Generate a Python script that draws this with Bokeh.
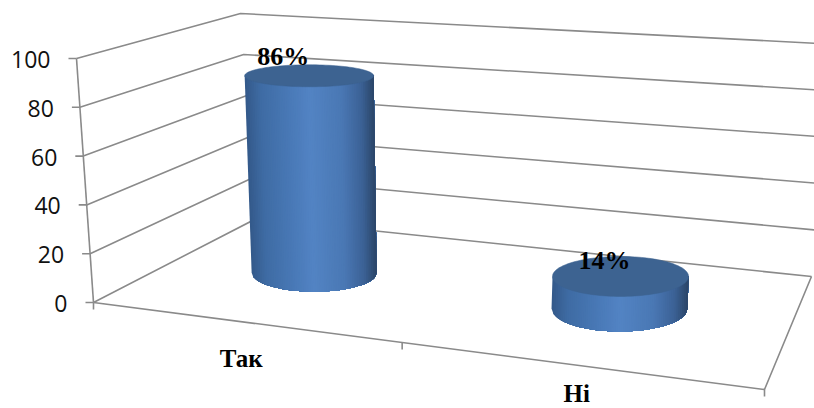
import numpy as np
from bokeh.plotting import figure
from bokeh.models import Range1d
from bokeh.core.properties import value
from bokeh.embed import file_html
from bokeh.resources import INLINE

# ---- data ----
categories = ["Так", "Ні"]
values = [86, 14]
data_labels = ["86%", "14%"]
y_ticks = [0, 20, 40, 60, 80, 100]

# ---- layout of the projected 3-D box (picture pixels) ----
AXIS_0, AXIS_100 = (93, 302), (76, 58)
BACK_0, BACK_100 = (256, 218), (240, 13)
RIGHT_0, RIGHT_100 = (811, 276), (838, 44)
FRONT_RIGHT = (764, 389)
PX_PER_UNIT = 2.29
SLOT_U = [0.218, 0.72]
DEPTH_W = 0.54
LEAN = [-0.058, 0.07]
BASE_RX, BASE_RY = [62.5, 68], [19, 23]
TOP_RX, TOP_RY = [64.5, 68], [11, 20]
LABEL_OFF = [(-26, -19), (-16, -16)]
CAT_OFF = [(-20, 34), (-20, 26)]
GRID = "#8a8a8a"
TOP_FILL = "#3d6391"
STOPS = [(0, "#34598a"), (0.12, "#3f6ca4"), (0.35, "#4a7ab8"), (0.5, "#5384c4"),
         (0.75, "#4a78b4"), (0.9, "#3c6296"), (1, "#2b4668")]


def lerp(a, b, t):
    return (a[0] + (b[0] - a[0]) * t, a[1] + (b[1] - a[1]) * t)


def floor_pt(u, w):
    return lerp(lerp(AXIS_0, FRONT_RIGHT, u), lerp(BACK_0, RIGHT_0, u), w)


def shade(t):
    xs = [s[0] for s in STOPS]
    rgb = [[int(s[1][i:i + 2], 16) for s in STOPS] for i in (1, 3, 5)]
    return "#%02x%02x%02x" % tuple(int(np.interp(t, xs, c)) for c in rgb)


p = figure(width=814, height=408, output_backend="svg", toolbar_location=None,
           x_range=Range1d(0, 814), y_range=Range1d(408, 0),
           min_border=0, outline_line_color=None, background_fill_color="white")
p.xaxis.visible = False
p.yaxis.visible = False
p.grid.visible = False

# walls and gridlines
for v in y_ticks:
    t = v / 100
    a, b, r = lerp(AXIS_0, AXIS_100, t), lerp(BACK_0, BACK_100, t), lerp(RIGHT_0, RIGHT_100, t)
    p.line([a[0], b[0], r[0]], [a[1], b[1], r[1]], line_color=GRID, line_width=1.6)
    p.line([a[0] - 8, a[0]], [a[1], a[1]], line_color=GRID, line_width=1.6)
    p.text([a[0] - 26], [a[1] + 1], text=[str(v)], text_font=value("Open Sans"),
           text_font_size="23px", text_color="#111111", text_align="right", text_baseline="middle")

# value axis, floor edges and category ticks
p.line([AXIS_100[0], AXIS_0[0]], [AXIS_100[1], AXIS_0[1]], line_color=GRID, line_width=1.6)
p.line([AXIS_0[0], FRONT_RIGHT[0], RIGHT_0[0]], [AXIS_0[1], FRONT_RIGHT[1], RIGHT_0[1]],
       line_color=GRID, line_width=1.6)
for u in [0, 0.46, 1]:
    q = lerp(AXIS_0, FRONT_RIGHT, u)
    p.line([q[0], q[0]], [q[1], q[1] + 7], line_color=GRID, line_width=1.6)

# cylinders: left-to-right strips, each overlapping the next, so no seams show
N = 72
for i, v in enumerate(values):
    bx, by = floor_pt(SLOT_U[i], DEPTH_W)
    tx, ty = bx + LEAN[i] * v, by - PX_PER_UNIT * v
    for k in range(N):
        s = np.linspace(k / N, 1, max(2, N - k + 1)) * 2 - 1
        bot_x = bx + BASE_RX[i] * s
        bot_y = by + BASE_RY[i] * np.sqrt(np.clip(1 - s ** 2, 0, 1))
        top_x = tx + TOP_RX[i] * s
        top_y = ty + 0 * s
        xs = np.concatenate([top_x, bot_x[::-1]])
        ys = np.concatenate([top_y, bot_y[::-1]])
        p.patch(xs, ys, fill_color=shade((k + 0.5) / N), line_color=None)
    ang = np.linspace(0, 2 * np.pi, 121)
    p.patch(tx + TOP_RX[i] * np.cos(ang), ty + TOP_RY[i] * np.sin(ang),
            fill_color=TOP_FILL, line_color=TOP_FILL, line_width=0.5)
    p.text([tx + LABEL_OFF[i][0]], [ty + LABEL_OFF[i][1]], text=[data_labels[i]],
           text_font=value("Liberation Serif"), text_font_style="bold", text_font_size="26px",
           text_color="black", text_align="center", text_baseline="middle")

# category labels
for i, c in enumerate(categories):
    q = lerp(AXIS_0, FRONT_RIGHT, (i + 0.5) / 2)
    p.text([q[0] + CAT_OFF[i][0]], [q[1] + CAT_OFF[i][1]], text=[c], text_font=value("Liberation Serif"),
           text_font_style="bold", text_font_size="25px", text_color="black",
           text_align="center", text_baseline="middle")

open("out.html", "w").write(file_html(p, INLINE))
